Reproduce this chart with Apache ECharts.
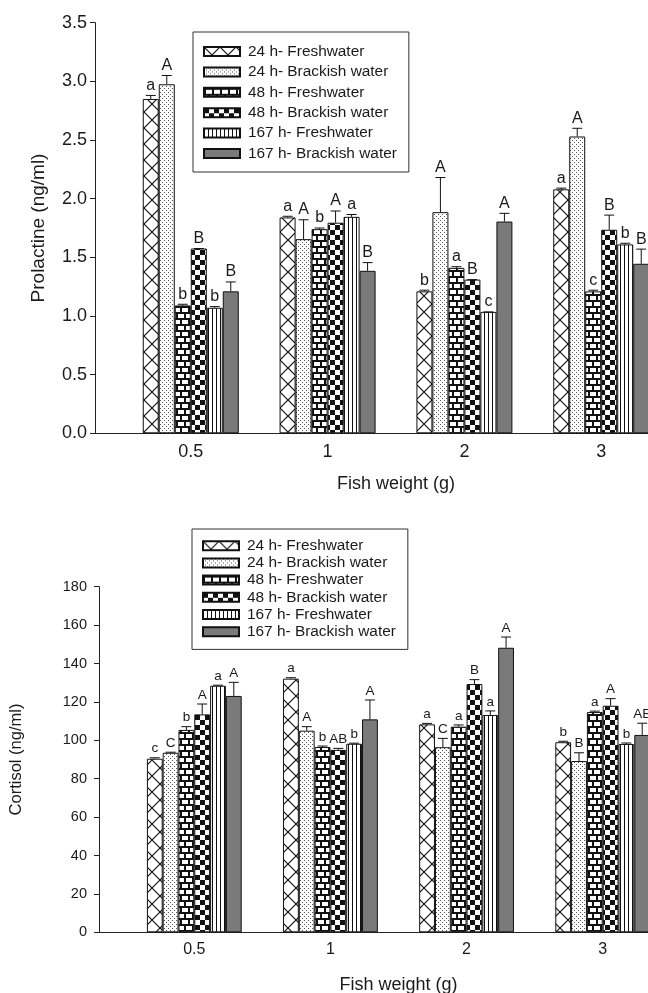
<!DOCTYPE html>
<html>
<head>
<meta charset="utf-8">
<script src="https://cdn.jsdelivr.net/npm/echarts@6/dist/echarts.min.js"></script>
<style>
html,body{margin:0;padding:0;background:#fff;}
#c{width:648px;height:993px;}
</style>
</head>
<body>
<div id="c"></div>
<script>
// ---------- DATA ----------
const categories = ['0.5', '1', '2', '3'];
const seriesNames = ['24 h- Freshwater', '24 h- Brackish water', '48 h- Freshwater',
                     '48 h- Brackish water', '167 h- Freshwater', '167 h- Brackish water'];

// Prolactine (ng/ml), one row per series, one column per fish weight
const prolactinValues = [
  [2.85, 1.84, 1.21, 2.08],
  [2.975, 1.655, 1.885, 2.53],
  [1.09, 1.74, 1.41, 1.21],
  [1.575, 1.795, 1.31, 1.735],
  [1.07, 1.845, 1.035, 1.61],
  [1.21, 1.385, 1.805, 1.445]
];
const prolactinErrors = [
  [0.03, 0.01, 0.01, 0.01],
  [0.075, 0.165, 0.295, 0.07],
  [0.01, 0.01, 0.01, 0.01],
  [0.0, 0.10, 0.0, 0.125],
  [0.01, 0.02, 0.0, 0.01],
  [0.08, 0.07, 0.07, 0.125]
];
const prolactinLetters = [
  ['a', 'a', 'b', 'a'],
  ['A', 'A', 'A', 'A'],
  ['b', 'b', 'a', 'c'],
  ['B', 'A', 'B', 'B'],
  ['b', 'a', 'c', 'b'],
  ['B', 'B', 'A', 'B']
];

// Cortisol (ng/ml)
const cortisolValues = [
  [90.4, 132.1, 108.3, 99.0],
  [93.5, 105.0, 96.4, 89.2],
  [105.4, 96.5, 107.1, 114.7],
  [113.5, 95.0, 129.3, 118.0],
  [128.4, 98.2, 113.2, 98.1],
  [123.1, 110.9, 148.2, 102.8]
];
const cortisolErrors = [
  [0.5, 0.5, 0.5, 0.5],
  [0.3, 2.1, 4.6, 4.3],
  [1.7, 0.5, 0.9, 0.5],
  [5.4, 0.8, 2.3, 3.7],
  [0.3, 0.3, 2.1, 0.5],
  [7.1, 10.1, 5.6, 6.1]
];
const cortisolLetters = [
  ['c', 'a', 'a', 'b'],
  ['C', 'A', 'C', 'B'],
  ['b', 'b', 'a', 'a'],
  ['A', 'AB', 'B', 'A'],
  ['a', 'b', 'a', 'b'],
  ['A', 'A', 'A', 'AB']
];

const prolactinTicks = { min: 0, max: 3.5, interval: 0.5 };
const cortisolTicks = { min: 0, max: 180, interval: 20 };

// ---------- PATTERNS ----------
function mk(w, h, draw) {
  const c = document.createElement('canvas');
  c.width = w; c.height = h;
  const g = c.getContext('2d');
  g.fillStyle = '#fff'; g.fillRect(0, 0, w, h);
  draw(g);
  return c;
}
const patCross = mk(16, 16, g => {
  g.strokeStyle = '#111'; g.lineWidth = 1.2;
  g.beginPath(); g.moveTo(0, 0); g.lineTo(16, 16); g.moveTo(16, 0); g.lineTo(0, 16); g.stroke();
});
const patDots = mk(4, 4, g => {
  g.fillStyle = '#555'; g.fillRect(0, 0, 1, 1); g.fillRect(2, 2, 1, 1);
});
const patBrick = mk(8, 12, g => {
  g.fillStyle = '#111';
  g.fillRect(0, 0, 8, 2); g.fillRect(0, 6, 8, 2);
  g.fillRect(0, 0, 2, 6); g.fillRect(4, 6, 2, 6);
});
const patChecker = mk(10, 10, g => {
  g.fillStyle = '#111'; g.fillRect(0, 0, 5, 5); g.fillRect(5, 5, 5, 5);
});
const patStripes = mk(4, 4, g => {
  g.fillStyle = '#111'; g.fillRect(0, 0, 1, 4);
});
const fills = [
  { image: patCross, repeat: 'repeat' },
  { image: patDots, repeat: 'repeat' },
  { image: patBrick, repeat: 'repeat' },
  { image: patChecker, repeat: 'repeat' },
  { image: patStripes, repeat: 'repeat' },
  '#7a7a7a'
];

const FONT = '"Liberation Sans", Arial, Helvetica, sans-serif';
const TXT = '#1a1a1a';

// ---------- BUILD ----------
function barSeries(k, values, barW) {
  return values.map((row, i) => ({
    type: 'bar',
    name: seriesNames[i],
    xAxisIndex: k, yAxisIndex: k,
    data: row.map((v, j) => [j, v]),
    barWidth: barW,
    barGap: '0%',
    itemStyle: { color: fills[i], borderColor: '#111', borderWidth: 1 },
    emphasis: { disabled: true },
    animation: false,
    z: 2
  }));
}
function errSeries(k, values, errors, letters, barW, fontSize) {
  const data = [];
  values.forEach((row, i) => row.forEach((v, j) => data.push([j, v, errors[i][j]])));
  return {
    type: 'custom',
    xAxisIndex: k, yAxisIndex: k,
    data: data,
    silent: true,
    animation: false,
    clip: false,
    z: 5,
    renderItem: function (params, api) {
      const idx = params.dataIndex;
      const si = Math.floor(idx / 4), j = idx % 4;
      const x = api.value(0), v = api.value(1), e = api.value(2);
      const pb = api.coord([x, v]);
      const pt = api.coord([x, v + e]);
      const cx = pb[0] + (si - 2.5) * barW;
      return {
        type: 'group',
        children: [
          { type: 'line', shape: { x1: cx, y1: pb[1], x2: cx, y2: pt[1] }, style: { stroke: '#111', lineWidth: 1 } },
          { type: 'line', shape: { x1: cx - 5, y1: pt[1], x2: cx + 5, y2: pt[1] }, style: { stroke: '#111', lineWidth: 1 } },
          { type: 'text', x: cx, y: pt[1] - 2,
            style: { text: letters[si][j], align: 'center', verticalAlign: 'bottom',
                     fontSize: fontSize, fontFamily: FONT, fill: TXT } }
        ]
      };
    }
  };
}

const option = {
  backgroundColor: '#fff',
  animation: false,
  textStyle: { fontFamily: FONT, color: TXT },
  grid: [
    { left: 95, right: -49, top: 22.7, height: 410.6, containLabel: false, outerBoundsMode: 'none' },
    { left: 99, right: -50, top: 586.7, height: 345.6, containLabel: false, outerBoundsMode: 'none' }
  ],
  legend: [
    { data: seriesNames, orient: 'vertical', left: 193, top: 32,
      padding: [11, 12, 10, 10], itemWidth: 36, itemHeight: 9, itemGap: 3.4,
      icon: 'rect', selectedMode: false, borderColor: '#333', borderWidth: 1,
      textStyle: { fontSize: 15.4, lineHeight: 17, fontFamily: FONT, color: TXT, padding: [0, 0, 0, 3] } },
    { data: seriesNames, orient: 'vertical', left: 192, top: 529,
      padding: [9, 12, 10, 10], itemWidth: 36, itemHeight: 9, itemGap: 1.8,
      icon: 'rect', selectedMode: false, borderColor: '#333', borderWidth: 1,
      textStyle: { fontSize: 15.4, lineHeight: 15.4, fontFamily: FONT, color: TXT, padding: [0, 0, 0, 3] } }
  ],
  xAxis: [
    { type: 'value', gridIndex: 0, min: -0.7, max: 3.7,
      axisLine: { show: true, onZero: false, lineStyle: { color: '#222', width: 1 } },
      axisTick: { show: false }, splitLine: { show: false },
      axisLabel: { customValues: [0, 1, 2, 3], formatter: v => categories[Math.round(v)],
                   fontSize: 18, color: TXT, margin: 10, fontFamily: FONT },
      name: 'Fish weight (g)', nameLocation: 'middle', nameGap: 42,
      nameTextStyle: { fontSize: 18, color: TXT, fontFamily: FONT } },
    { type: 'value', gridIndex: 1, min: -0.7, max: 3.7,
      axisLine: { show: true, onZero: false, lineStyle: { color: '#222', width: 1 } },
      axisTick: { show: false }, splitLine: { show: false },
      axisLabel: { customValues: [0, 1, 2, 3], formatter: v => categories[Math.round(v)],
                   fontSize: 16, color: TXT, margin: 9, fontFamily: FONT },
      name: 'Fish weight (g)', nameLocation: 'middle', nameGap: 44,
      nameTextStyle: { fontSize: 18, color: TXT, fontFamily: FONT } }
  ],
  yAxis: [
    { type: 'value', gridIndex: 0, min: prolactinTicks.min, max: prolactinTicks.max, interval: prolactinTicks.interval,
      axisLine: { show: true, onZero: false, lineStyle: { color: '#222', width: 1 } },
      axisTick: { show: true, inside: false, length: 5, lineStyle: { color: '#222' } },
      splitLine: { show: false },
      axisLabel: { formatter: v => v.toFixed(1), fontSize: 18, color: TXT, margin: 8, fontFamily: FONT },
      name: 'Prolactine (ng/ml)', nameLocation: 'middle', nameGap: 47,
      nameTextStyle: { fontSize: 19, color: TXT, fontFamily: FONT } },
    { type: 'value', gridIndex: 1, min: cortisolTicks.min, max: cortisolTicks.max, interval: cortisolTicks.interval,
      axisLine: { show: true, onZero: false, lineStyle: { color: '#222', width: 1 } },
      axisTick: { show: true, inside: false, length: 5, lineStyle: { color: '#222' } },
      splitLine: { show: false },
      axisLabel: { fontSize: 14.5, color: TXT, margin: 12, fontFamily: FONT },
      name: 'Cortisol (ng/ml)', nameLocation: 'middle', nameGap: 74,
      nameTextStyle: { fontSize: 16.5, color: TXT, fontFamily: FONT } }
  ],
  series: [].concat(
    barSeries(0, prolactinValues, 16),
    [errSeries(0, prolactinValues, prolactinErrors, prolactinLetters, 16, 16)],
    barSeries(1, cortisolValues, 15.8),
    [errSeries(1, cortisolValues, cortisolErrors, cortisolLetters, 15.8, 13.5)]
  )
};

const chart = echarts.init(document.getElementById('c'), null, { renderer: 'canvas' });
chart.setOption(option);
</script>
</body>
</html>
